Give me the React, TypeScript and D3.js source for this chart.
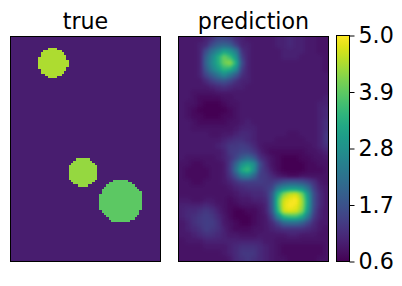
import { useEffect, useRef } from 'react';
import * as d3 from 'd3';

const WIDTH = 402;
const HEIGHT = 286;

const titles = ['true', 'prediction'];
const colorbarTicks = [0.6, 1.7, 2.8, 3.9, 5.0];
const valueRange = [0.6, 5.0];

// true mask is 64 x 96 cells. spans are [row, fromCol, toCol]
const trueCols = 64;
const trueRows = 96;
const backgroundValue = 0.95;
const topBlobValue = 4.45;
const middleBlobValue = 4.3;
const bottomBlobValue = 3.9;

const topBlob = [
  [5, 16, 20], [6, 14, 22], [7, 13, 23], [8, 13, 24], [9, 12, 24], [10, 12, 25], [11, 12, 25],
  [12, 12, 25], [13, 12, 24], [14, 13, 24], [15, 13, 23], [16, 15, 22], [17, 16, 20],
];
const middleBlob = [
  [52, 28, 34], [53, 27, 35], [54, 26, 36], [55, 25, 37], [56, 25, 37], [57, 25, 37], [58, 25, 37],
  [59, 25, 37], [60, 25, 37], [61, 26, 36], [62, 27, 35], [63, 29, 33],
];
const bottomBlob = [
  [61, 44, 50], [62, 42, 52], [63, 41, 53], [64, 40, 54], [65, 39, 55], [66, 39, 56], [67, 38, 56],
  [68, 38, 56], [69, 38, 56], [70, 38, 56], [71, 38, 56], [72, 38, 56], [73, 38, 56], [74, 39, 55],
  [75, 40, 55], [76, 41, 54], [77, 42, 53], [78, 43, 51],
];

// prediction on a coarse grid, in tenths
const predictionTenths = [
  [9, 9, 9, 9, 10, 12, 15, 15, 14, 11, 10, 9, 9, 9, 9, 9, 10, 10, 11, 10, 10, 9, 9, 8, 8],
  [9, 9, 9, 10, 11, 16, 19, 20, 19, 14, 10, 10, 9, 9, 9, 9, 10, 10, 11, 10, 10, 9, 9, 8, 8],
  [9, 9, 9, 10, 16, 22, 26, 31, 29, 24, 12, 10, 9, 9, 9, 9, 9, 10, 10, 10, 10, 9, 9, 8, 8],
  [9, 9, 9, 10, 19, 26, 33, 40, 36, 29, 14, 10, 9, 9, 9, 9, 9, 10, 10, 10, 9, 9, 9, 9, 8],
  [9, 9, 9, 10, 20, 27, 33, 40, 43, 34, 16, 10, 9, 9, 9, 9, 9, 9, 9, 9, 9, 9, 9, 9, 8],
  [9, 9, 9, 10, 18, 25, 30, 35, 34, 28, 14, 10, 9, 9, 9, 9, 9, 9, 9, 9, 9, 9, 9, 9, 8],
  [9, 9, 9, 10, 15, 19, 23, 27, 23, 18, 12, 10, 9, 9, 9, 9, 9, 9, 9, 9, 9, 9, 9, 9, 9],
  [9, 9, 9, 9, 11, 14, 16, 17, 15, 12, 10, 10, 9, 9, 9, 9, 9, 9, 9, 9, 9, 9, 9, 9, 9],
  [9, 9, 9, 9, 9, 10, 11, 12, 11, 10, 10, 9, 9, 9, 9, 9, 9, 9, 9, 9, 9, 9, 9, 9, 9],
  [9, 9, 8, 8, 8, 8, 9, 9, 9, 9, 9, 9, 9, 9, 9, 9, 9, 9, 9, 9, 9, 9, 9, 9, 9],
  [9, 9, 8, 7, 7, 7, 7, 8, 8, 9, 9, 9, 9, 9, 9, 9, 9, 9, 9, 9, 9, 9, 9, 9, 10],
  [9, 8, 8, 7, 6, 6, 6, 7, 8, 8, 9, 9, 9, 9, 9, 9, 9, 9, 9, 9, 9, 9, 9, 10, 10],
  [9, 8, 7, 6, 6, 6, 6, 6, 7, 8, 9, 9, 9, 9, 9, 9, 9, 9, 9, 9, 9, 9, 9, 10, 11],
  [9, 8, 7, 7, 6, 6, 6, 7, 7, 8, 9, 9, 9, 9, 9, 9, 9, 9, 9, 9, 9, 9, 9, 10, 11],
  [9, 9, 8, 7, 7, 7, 7, 7, 8, 8, 9, 10, 9, 9, 9, 9, 9, 9, 9, 9, 9, 9, 9, 10, 12],
  [9, 9, 8, 8, 8, 8, 8, 8, 8, 9, 10, 10, 10, 9, 9, 9, 9, 9, 9, 9, 9, 9, 9, 10, 12],
  [9, 9, 9, 9, 9, 8, 8, 9, 9, 10, 11, 11, 10, 9, 9, 9, 9, 9, 8, 8, 9, 9, 9, 10, 13],
  [9, 9, 9, 9, 9, 9, 9, 10, 11, 12, 12, 11, 10, 9, 9, 9, 8, 8, 8, 8, 8, 9, 9, 10, 13],
  [9, 9, 9, 9, 9, 9, 10, 11, 13, 13, 14, 13, 11, 9, 8, 8, 8, 8, 8, 8, 8, 8, 9, 10, 12],
  [9, 9, 9, 9, 9, 9, 9, 10, 13, 14, 15, 15, 13, 10, 8, 7, 7, 7, 7, 7, 7, 8, 8, 9, 10],
  [9, 8, 8, 8, 8, 8, 9, 10, 12, 15, 19, 21, 18, 12, 10, 8, 7, 6, 6, 6, 7, 7, 8, 8, 9],
  [8, 8, 7, 7, 8, 8, 8, 9, 13, 20, 28, 31, 28, 16, 11, 8, 7, 6, 6, 6, 6, 7, 7, 8, 8],
  [8, 7, 7, 7, 7, 8, 8, 9, 13, 22, 33, 36, 28, 15, 12, 9, 7, 6, 6, 6, 6, 7, 7, 7, 8],
  [8, 7, 7, 7, 7, 8, 8, 9, 12, 17, 24, 25, 20, 14, 13, 11, 9, 8, 7, 7, 8, 8, 8, 8, 8],
  [8, 8, 7, 7, 8, 8, 8, 9, 10, 12, 14, 14, 14, 14, 13, 13, 15, 17, 18, 18, 17, 15, 12, 9, 8],
  [8, 8, 8, 8, 8, 8, 8, 8, 9, 10, 11, 12, 12, 12, 13, 15, 23, 27, 29, 29, 27, 22, 14, 10, 9],
  [8, 8, 8, 8, 8, 8, 8, 8, 8, 9, 10, 10, 11, 11, 12, 18, 33, 42, 46, 47, 41, 29, 16, 11, 9],
  [9, 9, 8, 8, 9, 9, 8, 8, 7, 8, 9, 9, 10, 10, 11, 18, 37, 47, 49, 50, 44, 31, 16, 11, 9],
  [10, 10, 10, 10, 11, 10, 9, 8, 7, 7, 8, 8, 8, 9, 10, 18, 37, 48, 50, 49, 44, 31, 16, 11, 9],
  [10, 11, 11, 12, 13, 12, 10, 8, 7, 6, 6, 7, 7, 8, 10, 17, 35, 47, 48, 47, 42, 29, 15, 10, 9],
  [10, 11, 12, 13, 14, 13, 11, 9, 7, 6, 6, 6, 7, 8, 9, 14, 25, 34, 36, 36, 32, 23, 13, 10, 9],
  [9, 10, 12, 13, 14, 14, 12, 9, 8, 7, 6, 6, 7, 8, 9, 11, 15, 20, 21, 21, 19, 15, 11, 9, 9],
  [9, 10, 11, 12, 14, 13, 12, 10, 8, 7, 7, 7, 8, 8, 9, 10, 11, 12, 12, 12, 12, 11, 10, 9, 8],
  [9, 9, 10, 11, 12, 12, 11, 10, 9, 9, 8, 8, 8, 9, 9, 9, 9, 9, 10, 10, 9, 9, 9, 8, 8],
  [8, 9, 9, 9, 10, 10, 10, 10, 10, 10, 10, 10, 10, 10, 9, 9, 8, 8, 8, 8, 8, 8, 8, 8, 8],
  [8, 8, 8, 8, 9, 9, 9, 9, 10, 11, 12, 12, 12, 11, 10, 9, 8, 7, 7, 7, 7, 7, 7, 7, 8],
  [8, 8, 8, 8, 8, 8, 8, 9, 10, 11, 13, 13, 13, 11, 10, 9, 8, 7, 7, 7, 7, 7, 7, 7, 8],
  [8, 8, 8, 8, 8, 8, 8, 8, 9, 11, 12, 13, 12, 11, 10, 9, 8, 8, 7, 7, 7, 7, 7, 8, 8],
];

const panelTop = 36;
const panelBottom = 262;
const trueLeft = 10;
const trueRight = 160.5;
const predLeft = 178.5;
const predRight = 329;
const barLeft = 336;
const barRight = 349;

const App = () => {
  const svgRef = useRef<SVGSVGElement>(null);

  useEffect(() => {
    if (!svgRef.current) return;
    const svg = d3.select(svgRef.current);
    svg.selectAll('*').remove();

    const norm = d3.scaleLinear().domain(valueRange).range([0, 1]).clamp(true);
    const color = (v: number) => d3.interpolateViridis(norm(v));
    const font = 'DejaVu Sans';

    const defs = svg.append('defs');

    // blur the gray grid first and colour it after, so the mix stays on the colormap
    const samples = d3.range(0, 1.0001, 1 / 64).map(t => d3.rgb(d3.interpolateViridis(t)));
    const filter = defs.append('filter')
      .attr('id', 'viridis-blur')
      .attr('filterUnits', 'userSpaceOnUse')
      .attr('x', 0).attr('y', 0)
      .attr('width', WIDTH).attr('height', HEIGHT)
      .attr('color-interpolation-filters', 'sRGB');
    filter.append('feGaussianBlur').attr('stdDeviation', 2);
    const transfer = filter.append('feComponentTransfer');
    transfer.append('feFuncR').attr('type', 'table').attr('tableValues', samples.map(c => (c.r / 255).toFixed(4)).join(' '));
    transfer.append('feFuncG').attr('type', 'table').attr('tableValues', samples.map(c => (c.g / 255).toFixed(4)).join(' '));
    transfer.append('feFuncB').attr('type', 'table').attr('tableValues', samples.map(c => (c.b / 255).toFixed(4)).join(' '));

    defs.append('clipPath').attr('id', 'pred-clip').append('rect')
      .attr('x', predLeft).attr('y', panelTop)
      .attr('width', predRight - predLeft).attr('height', panelBottom - panelTop);

    const grad = defs.append('linearGradient')
      .attr('id', 'bar-gradient')
      .attr('x1', 0).attr('y1', 1).attr('x2', 0).attr('y2', 0);
    grad.selectAll('stop')
      .data(d3.range(0, 1.0001, 0.05))
      .enter()
      .append('stop')
      .attr('offset', d => `${d * 100}%`)
      .attr('stop-color', d => d3.interpolateViridis(d));

    // true panel
    const tx = d3.scaleLinear().domain([0, trueCols]).range([trueLeft, trueRight]);
    const ty = d3.scaleLinear().domain([0, trueRows]).range([panelTop, panelBottom]);
    const trueG = svg.append('g').attr('shape-rendering', 'crispEdges');
    trueG.append('rect')
      .attr('x', tx(0)).attr('y', ty(0))
      .attr('width', tx(trueCols) - tx(0)).attr('height', ty(trueRows) - ty(0))
      .attr('fill', color(backgroundValue));
    const blobs: [number[][], number][] = [
      [topBlob, topBlobValue],
      [middleBlob, middleBlobValue],
      [bottomBlob, bottomBlobValue],
    ];
    blobs.forEach(([spans, value]) => {
      trueG.selectAll(null)
        .data(spans)
        .enter()
        .append('rect')
        .attr('x', d => tx(d[1]))
        .attr('y', d => ty(d[0]))
        .attr('width', d => tx(d[2]) - tx(d[1]))
        .attr('height', d => ty(d[0] + 1) - ty(d[0]))
        .attr('fill', color(value));
    });

    // prediction panel, edge cells repeated past the frame so the blur does not fade there
    const nRows = predictionTenths.length;
    const nCols = predictionTenths[0].length;
    const px = d3.scaleLinear().domain([0, nCols]).range([predLeft, predRight]);
    const py = d3.scaleLinear().domain([0, nRows]).range([panelTop, panelBottom]);
    const pad = 3;
    const cells: { c: number; r: number; v: number }[] = [];
    for (let r = -pad; r < nRows + pad; r++) {
      for (let c = -pad; c < nCols + pad; c++) {
        const row = predictionTenths[Math.max(0, Math.min(nRows - 1, r))];
        cells.push({ c, r, v: row[Math.max(0, Math.min(nCols - 1, c))] / 10 });
      }
    }
    const gray = (v: number) => {
      const g = Math.round(norm(v) * 255);
      return `rgb(${g},${g},${g})`;
    };
    svg.append('g')
      .attr('clip-path', 'url(#pred-clip)')
      .append('g')
      .attr('filter', 'url(#viridis-blur)')
      .attr('shape-rendering', 'crispEdges')
      .selectAll('rect')
      .data(cells)
      .enter()
      .append('rect')
      .attr('x', d => px(d.c))
      .attr('y', d => py(d.r))
      .attr('width', px(1) - px(0) + 0.5)
      .attr('height', py(1) - py(0) + 0.5)
      .attr('fill', d => gray(d.v));

    // frames and titles
    [[10.5, trueRight], [predLeft, 328.5]].forEach(([l, r], i) => {
      svg.append('rect')
        .attr('x', l).attr('y', 36.5)
        .attr('width', r - l).attr('height', 225)
        .attr('fill', 'none')
        .attr('stroke', '#000')
        .attr('stroke-width', 1);
      svg.append('text')
        .attr('x', (l + r) / 2)
        .attr('y', 29)
        .attr('text-anchor', 'middle')
        .attr('font-family', font)
        .attr('font-size', 22.2)
        .attr('fill', '#000')
        .text(titles[i]);
    });

    // colorbar
    svg.append('rect')
      .attr('x', barLeft + 0.5).attr('y', 35.5)
      .attr('width', barRight - barLeft).attr('height', 226)
      .attr('fill', 'url(#bar-gradient)')
      .attr('stroke', '#000')
      .attr('stroke-width', 1);
    const barScale = d3.scaleLinear().domain(valueRange).range([261.5, 35.5]);
    const axis = d3.axisRight(barScale)
      .tickValues(colorbarTicks)
      .tickFormat(d3.format('.1f'))
      .tickSize(5)
      .tickPadding(4);
    const axisG = svg.append('g')
      .attr('transform', `translate(${barRight + 0.5},0)`)
      .call(axis);
    axisG.select('.domain').remove();
    axisG.selectAll('line').attr('stroke', '#000');
    axisG.selectAll('text')
      .attr('font-family', font)
      .attr('font-size', 22.2)
      .attr('fill', '#000');
  }, []);

  return (
    <svg
      ref={svgRef}
      width={WIDTH}
      height={HEIGHT}
      style={{ position: 'absolute', left: 0, top: 0, display: 'block', background: '#fff' }}
    />
  );
};

export default App;
